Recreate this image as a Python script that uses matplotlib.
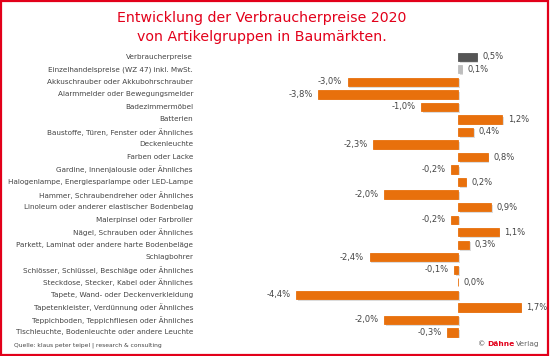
import matplotlib.pyplot as plt
import matplotlib.patheffects as pe
import matplotlib.transforms as mtransforms
from matplotlib.patches import Rectangle

# data
categories = [
    "Verbraucherpreise",
    "Einzelhandelspreise (WZ 47) inkl. MwSt.",
    "Akkuschrauber oder Akkubohrschrauber",
    "Alarmmelder oder Bewegungsmelder",
    "Badezimmermöbel",
    "Batterien",
    "Baustoffe, Türen, Fenster oder Ähnliches",
    "Deckenleuchte",
    "Farben oder Lacke",
    "Gardine, Innenjalousie oder Ähnliches",
    "Halogenlampe, Energiesparlampe oder LED-Lampe",
    "Hammer, Schraubendreher oder Ähnliches",
    "Linoleum oder anderer elastischer Bodenbelag",
    "Malerpinsel oder Farbroller",
    "Nägel, Schrauben oder Ähnliches",
    "Parkett, Laminat oder andere harte Bodenbeläge",
    "Schlagbohrer",
    "Schlösser, Schlüssel, Beschläge oder Ähnliches",
    "Steckdose, Stecker, Kabel oder Ähnliches",
    "Tapete, Wand- oder Deckenverkleidung",
    "Tapetenkleister, Verdünnung oder Ähnliches",
    "Teppichboden, Teppichfliesen oder Ähnliches",
    "Tischleuchte, Bodenleuchte oder andere Leuchte",
]
values = [0.5, 0.1, -3.0, -3.8, -1.0, 1.2, 0.4, -2.3, 0.8, -0.2, 0.2, -2.0,
          0.9, -0.2, 1.1, 0.3, -2.4, -0.1, 0.0, -4.4, 1.7, -2.0, -0.3]

red = "#e2001a"
orange = "#e8700c"
colors = ["#555555", "#bdbdbd"] + [orange] * (len(values) - 2)

fig = plt.figure(figsize=(5.5, 3.56), dpi=100)
# red frame round the whole picture
fig.patches.append(Rectangle((0.002, 0.004), 0.994, 0.994, transform=fig.transFigure,
                             fill=False, edgecolor=red, linewidth=1.6))

ax = fig.add_axes([0.525, 0.0486, 0.462, 0.8095])
y = list(range(len(values)))
bars = ax.barh(y, values, height=0.66, color=colors, edgecolor=colors, linewidth=0.6)
for b in bars:
    b.set_path_effects([pe.SimplePatchShadow(offset=(1.2, -1.2), shadow_rgbFace="#bbbbbb",
                                             alpha=0.5), pe.Normal()])

ax.set_xlim(-4.6, 2.3)
ax.set_ylim(len(values) - 0.5, -0.5)
ax.axis("off")

# value labels
for yi, v in zip(y, values):
    txt = f"{v:.1f}%".replace(".", ",")
    off = -4 if v < 0 else 4
    ax.annotate(txt, (v, yi), xytext=(off, 0), textcoords="offset points",
                ha="right" if v < 0 else "left", va="center", fontsize=6.0, color="#444444")

# category labels, right aligned at a fixed x position
lab_trans = mtransforms.blended_transform_factory(fig.transFigure, ax.transData)
for yi, c in zip(y, categories):
    ax.text(193 / 550, yi, c, transform=lab_trans,
            ha="right", va="center", fontsize=5.25, color="#444444")

fig.text(262 / 550, 1 - 18 / 356, "Entwicklung der Verbraucherpreise 2020",
         ha="center", va="center", fontsize=10.2, color=red)
fig.text(262 / 550, 1 - 37 / 356, "von Artikelgruppen in Baumärkten.",
         ha="center", va="center", fontsize=10.2, color=red)

fig.text(14 / 550, 1 - 345 / 356, "Quelle: klaus peter teipel | research & consulting",
         ha="left", va="center", fontsize=4.3, color="#444444")

# footer logo text, built right to left
r = fig.canvas.get_renderer()
yy = 1 - 344 / 356
t3 = fig.text(540 / 550, yy, "Verlag", ha="right", va="center", fontsize=5.4, color="#666666")
x3 = t3.get_window_extent(r).x0 / fig.bbox.width
t2 = fig.text(x3 - 0.003, yy, "Dähne", ha="right", va="center", fontsize=5.4,
              color=red, fontweight="bold")
x2 = t2.get_window_extent(r).x0 / fig.bbox.width
fig.text(x2 - 0.003, yy, "©", ha="right", va="center", fontsize=5.4, color="#555555")

fig.savefig("out.png", dpi=100)
